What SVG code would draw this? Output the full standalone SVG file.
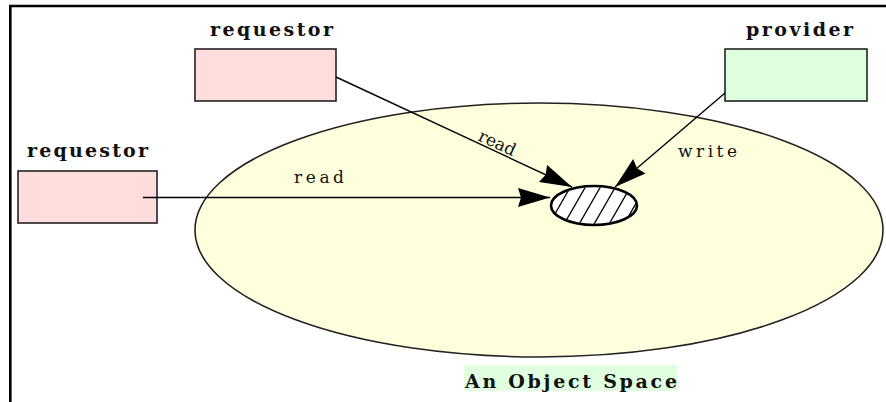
<svg xmlns="http://www.w3.org/2000/svg" width="886" height="402" viewBox="0 0 886 402">
<style>
.box{stroke:#222;stroke-width:1.6}
.req{fill:#FFDDDD}
.prov{fill:#DDFFDD}
.title{font-family:"DejaVu Serif","Liberation Serif",serif;font-weight:bold;font-size:19px;fill:#111}
.lbl{font-family:"DejaVu Serif","Liberation Serif",serif;font-size:17px;fill:#111}
.conn{stroke:#000;stroke-width:1.4;fill:none}
</style>
<defs>
<marker id="ah" markerUnits="userSpaceOnUse" markerWidth="34" markerHeight="22" refX="32" refY="10" orient="auto">
<path d="M0,0.5 L32,10 L0,19.5 L3,10 z" fill="#000"/>
</marker>
<clipPath id="clipE"><ellipse cx="594" cy="205.5" rx="42" ry="18.5"/></clipPath>
</defs>
<rect x="0" y="0" width="886" height="402" fill="#fff"/>
<path d="M10.3,402 V6 H886" fill="none" stroke="#000" stroke-width="2.6"/>

<g id="space">
<ellipse cx="539" cy="230" rx="344" ry="127" fill="#FFFFDD" stroke="#222" stroke-width="1.6"/>
<rect x="464" y="365" width="213" height="26" fill="#E0FFE0"/>
<text class="title" x="465" y="388" textLength="212" lengthAdjust="spacing" font-size="21">An Object Space</text>
</g>

<g id="object">
<ellipse cx="594" cy="205.5" rx="43" ry="19.5" fill="#fff"/>
<g clip-path="url(#clipE)" stroke="#000" stroke-width="1.3">
<line x1="533" y1="226" x2="556" y2="186"/>
<line x1="548" y1="226" x2="571" y2="186"/>
<line x1="563" y1="226" x2="586" y2="186"/>
<line x1="578" y1="226" x2="601" y2="186"/>
<line x1="593" y1="226" x2="616" y2="186"/>
<line x1="608" y1="226" x2="631" y2="186"/>
<line x1="623" y1="226" x2="646" y2="186"/>
<line x1="638" y1="226" x2="661" y2="186"/>
</g>
<ellipse cx="594" cy="205.5" rx="43" ry="19.5" fill="none" stroke="#000" stroke-width="2.6"/>
</g>

<g id="requestor-top">
<rect class="box req" x="195" y="49" width="141" height="52"/>
<text class="title" x="210" y="36" textLength="123" lengthAdjust="spacing">requestor</text>
</g>

<g id="requestor-left">
<rect class="box req" x="18" y="171" width="139" height="52"/>
<text class="title" x="27" y="157" textLength="121" lengthAdjust="spacing">requestor</text>
</g>

<g id="provider">
<rect class="box prov" x="725" y="49" width="142" height="52"/>
<text class="title" x="746" y="36" textLength="107" lengthAdjust="spacing">provider</text>
</g>

<g id="connectors">
<line class="conn" x1="143" y1="197.5" x2="550" y2="197.5" marker-end="url(#ah)"/>
<line class="conn" x1="336" y1="77" x2="572" y2="187" marker-end="url(#ah)"/>
<line class="conn" x1="725" y1="93" x2="615" y2="187" marker-end="url(#ah)"/>
<text class="lbl" x="294" y="183" textLength="50" lengthAdjust="spacing">read</text>
<text class="lbl" transform="translate(494,150) rotate(25)" x="0" y="-2" text-anchor="middle" font-size="18">read</text>
<text class="lbl" x="678" y="157" textLength="59" lengthAdjust="spacing">write</text>
</g>
</svg>
